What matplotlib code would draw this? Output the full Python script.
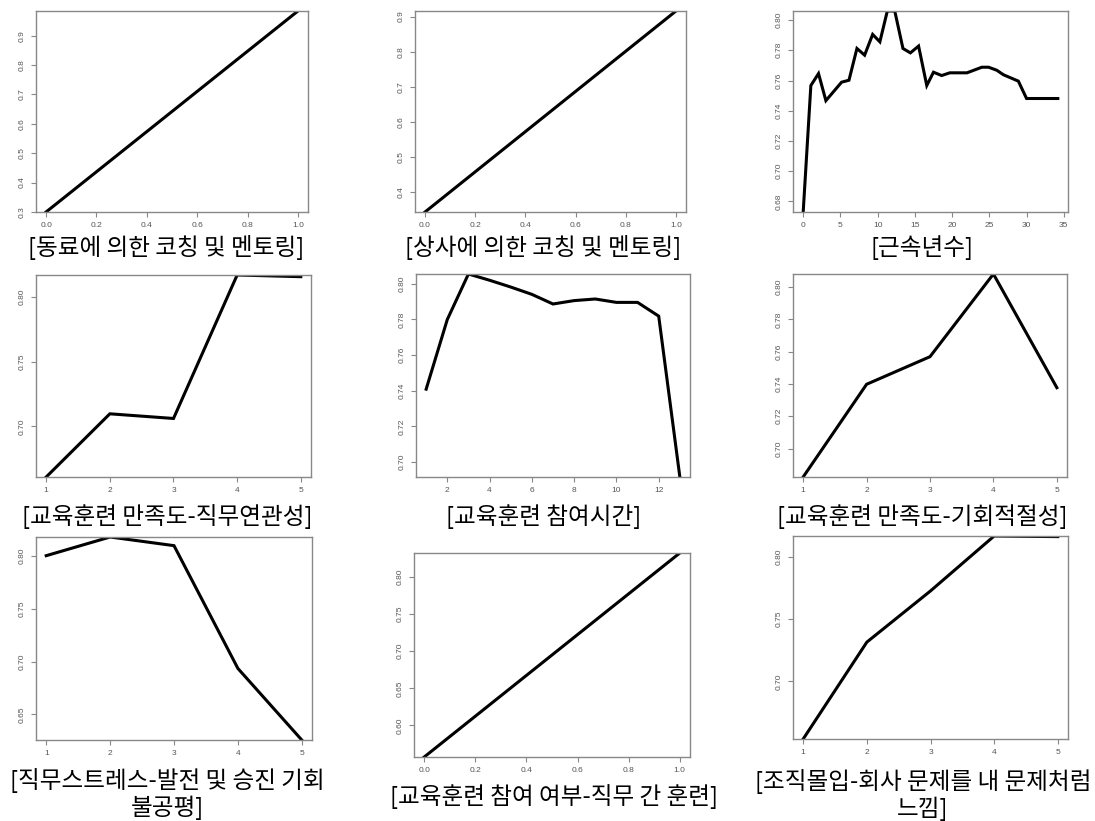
import numpy as np
import matplotlib.pyplot as plt
from matplotlib.ticker import FormatStrFormatter

plt.rcParams['font.family'] = ['Liberation Sans', 'DejaVu Sans']

KR_FONT = ['Noto Sans CJK KR', 'DejaVu Sans']
W, H = 1095, 821

# partial dependence curves, one per variable
coworker_x = [0.0, 1.0]
coworker_y = [0.300, 0.984]

supervisor_x = [0.0, 1.0]
supervisor_y = [0.344, 0.916]

tenure_x = [0.0, 1.03, 2.06, 3.05, 5.16, 6.15, 7.22, 8.25, 9.33, 10.3, 11.3, 12.3,
            13.4, 14.4, 15.5, 16.6, 17.5, 18.6, 19.7, 22.0, 24.0, 24.9, 26.0,
            26.9, 28.9, 30.0, 34.2]
tenure_y = [0.673, 0.7567, 0.7646, 0.7467, 0.7589, 0.7602, 0.7812, 0.7768, 0.7905,
            0.7856, 0.806, 0.806, 0.7812, 0.7783, 0.7828, 0.7567, 0.7655, 0.7633,
            0.7651, 0.7651, 0.7688, 0.7688, 0.7668, 0.7638, 0.7596, 0.7481, 0.7481]

relevance_x = [1, 2, 3, 4, 5]
relevance_y = [0.661, 0.7098, 0.7062, 0.817, 0.8157]

hours_x = [1, 2, 3, 4, 5, 6, 7, 8, 9, 10, 11, 12, 13]
hours_y = [0.7409, 0.7799, 0.8054, 0.8019, 0.7981, 0.7940, 0.7886, 0.7905,
           0.7914, 0.7895, 0.7895, 0.7818, 0.6917]

timing_x = [1, 2, 3, 4, 5]
timing_y = [0.6824, 0.7398, 0.7569, 0.8081, 0.7377]

promotion_x = [1, 2, 3, 4, 5]
promotion_y = [0.8003, 0.818, 0.8098, 0.6935, 0.6257]

ojt_x = [0.0, 1.0]
ojt_y = [0.5573, 0.8324]

commitment_x = [1, 2, 3, 4, 5]
commitment_y = [0.6539, 0.7315, 0.7725, 0.8165, 0.816]

titles = [
    '[동료에 의한 코칭 및 멘토링]',
    '[상사에 의한 코칭 및 멘토링]',
    '[근속년수]',
    '[교육훈련 만족도-직무연관성]',
    '[교육훈련 참여시간]',
    '[교육훈련 만족도-기회적절성]',
    '[직무스트레스-발전 및 승진 기회\n불공평]',
    '[교육훈련 참여 여부-직무 간 훈련]',
    '[조직몰입-회사 문제를 내 문제처럼\n느낌]',
]

series = [
    (coworker_x, coworker_y),
    (supervisor_x, supervisor_y),
    (tenure_x, tenure_y),
    (relevance_x, relevance_y),
    (hours_x, hours_y),
    (timing_x, timing_y),
    (promotion_x, promotion_y),
    (ojt_x, ojt_y),
    (commitment_x, commitment_y),
]

xticks = [
    np.arange(0, 1.01, 0.2), np.arange(0, 1.01, 0.2), np.arange(0, 36, 5),
    [1, 2, 3, 4, 5], np.arange(2, 13, 2), [1, 2, 3, 4, 5],
    [1, 2, 3, 4, 5], np.arange(0, 1.01, 0.2), [1, 2, 3, 4, 5],
]
yticks = [
    np.arange(0.3, 0.95, 0.1), np.arange(0.4, 0.95, 0.1), np.arange(0.68, 0.81, 0.02),
    [0.70, 0.75, 0.80], np.arange(0.70, 0.81, 0.02), np.arange(0.70, 0.81, 0.02),
    [0.65, 0.70, 0.75, 0.80], np.arange(0.60, 0.81, 0.05), [0.70, 0.75, 0.80],
]
xfmt = ['%.1f', '%.1f', '%d', '%d', '%d', '%d', '%d', '%.1f', '%d']
yfmt = ['%.1f', '%.1f', '%.2f', '%.2f', '%.2f', '%.2f', '%.2f', '%.2f', '%.2f']

# panel boxes in pixels: left, top, right, bottom
boxes = [
    (36, 11, 308, 212), (415, 11, 686, 212), (793, 11, 1068, 212),
    (36, 275, 311, 477), (416, 274, 690, 477), (793, 274, 1067, 477),
    (36, 537, 312, 740), (414, 553, 690, 757), (793, 536, 1068, 739),
]
# title centre in pixels
title_pos = [
    (166, 248), (543, 248), (922, 248),
    (167, 517), (544, 517), (922, 517),
    (167, 794), (554, 797), (923, 795),
]

fig = plt.figure(figsize=(W / 100, H / 100), dpi=100)

for i, (xs, ys) in enumerate(series):
    l, t, r, b = boxes[i]
    ax = fig.add_axes([l / W, 1 - b / H, (r - l) / W, (b - t) / H])
    ax.plot(xs, ys, color='black', lw=2.2, solid_joinstyle='miter')
    ax.set_xlim(min(xs) - 0.04 * (max(xs) - min(xs)), max(xs) + 0.04 * (max(xs) - min(xs)))
    ax.set_ylim(min(ys), max(ys))
    ax.set_xticks(xticks[i])
    ax.set_yticks(yticks[i])
    ax.xaxis.set_major_formatter(FormatStrFormatter(xfmt[i]))
    ax.yaxis.set_major_formatter(FormatStrFormatter(yfmt[i]))
    for s in ax.spines.values():
        s.set_color('#888888')
        s.set_linewidth(1.0)
    ax.tick_params(direction='out', length=3.5, width=0.8, color='#888888',
                   labelsize=6, labelcolor='#555555', pad=4)
    for lab in ax.get_yticklabels():
        lab.set_rotation(90)
        lab.set_va('center')
    px, py = title_pos[i]
    fig.text(px / W, 1 - py / H, titles[i], ha='center', va='center',
             fontsize=17, family=KR_FONT, linespacing=1.1)

fig.savefig('out.png', dpi=100)
